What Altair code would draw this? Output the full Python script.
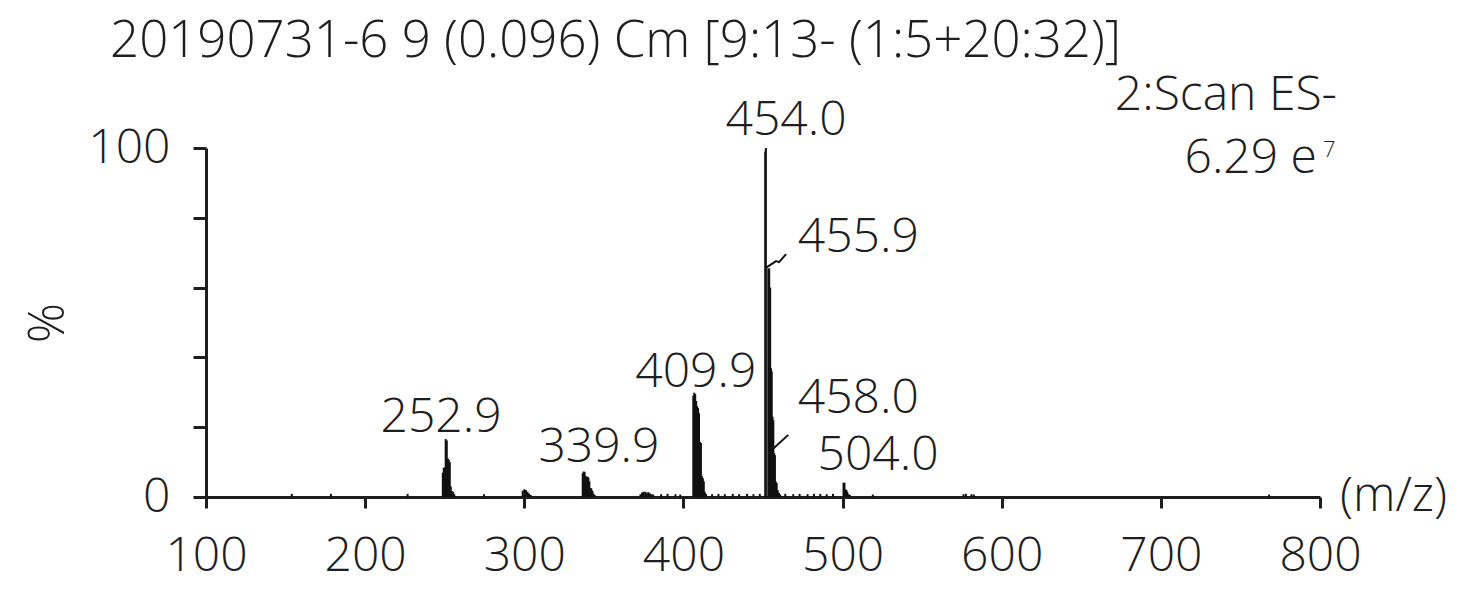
import altair as alt
import pandas as pd

# ---- spectrum sticks (m/z, relative intensity %) ----
mz = [153.9, 178.5, 226.7, 274.7,
      248.8, 249.4, 250.0, 250.6, 251.3, 252.0, 252.6, 253.2, 253.8, 254.5, 255.3, 256.0,
      299.0, 300.0, 301.0, 302.0, 303.0, 304.0,
      336.7, 337.3, 337.9, 338.5, 339.1, 339.7, 340.3, 340.9, 341.5, 342.1, 342.8, 343.4, 344.2,
      373.0, 374.0, 375.0, 376.0, 377.0, 378.0, 379.0, 380.0, 381.0,
      386.0, 390.0, 395.0, 398.0,
      406.2, 406.8, 407.4, 408.0, 408.6, 409.2, 409.8, 410.4, 411.0, 411.6, 412.2, 412.8, 413.4, 414.2,
      418.0, 422.0, 426.0, 431.0, 435.0, 440.0, 444.0, 448.0,
      451.4, 451.8,
      453.3, 453.9, 454.5, 455.0, 455.5, 456.0, 456.5, 457.0, 457.5, 458.0, 458.6, 459.2, 460.0, 460.8,
      464.0, 469.0, 473.0, 478.0, 482.0, 486.0, 490.0, 494.0,
      500.6, 501.2, 501.8, 502.4, 503.0, 503.8, 504.6,
      519.0, 576.0, 577.5, 581.0, 582.5, 768.0]
inten = [0.9, 0.9, 0.9, 0.8,
         7.0, 8.3, 8.5, 16.6, 16.2, 11.0, 10.6, 10.0, 3.0, 1.7, 1.5, 0.8,
         1.8, 2.2, 2.0, 1.5, 1.0, 0.6,
         6.8, 7.3, 7.2, 6.0, 5.8, 5.8, 5.6, 4.5, 2.5, 2.5, 1.8, 1.0, 0.6,
         0.8, 1.3, 1.5, 1.5, 1.2, 1.4, 1.0, 0.8, 0.7,
         0.8, 0.9, 0.8, 0.7,
         29.0, 29.9, 29.5, 27.5, 26.0, 25.5, 24.0, 15.8, 15.5, 6.0, 5.4, 4.5, 1.5, 0.9,
         0.8, 0.9, 0.8, 0.9, 0.8, 0.9, 0.8, 0.9,
         99.0, 100.0,
         65.5, 65.5, 60.0, 36.9, 36.0, 23.0, 22.0, 12.6, 12.0, 4.5, 4.0, 2.0, 1.2, 0.7,
         0.9, 0.8, 0.9, 0.8, 0.9, 0.9, 0.8, 0.9,
         4.1, 4.1, 2.2, 2.0, 1.5, 0.8, 0.6,
         0.7, 0.8, 0.9, 0.8, 0.7, 0.7]

# ---- peak labels ----
label_text = ["454.0", "455.9", "409.9", "252.9", "339.9", "458.0", "504.0"]
label_x = [464.5, 509.9, 407.8, 247.7, 346.9, 509.9, 522.3]
label_y = [103.7, 70.3, 31.6, 18.7, 10.1, 24.2, 7.7]

# ---- leader lines (label id, m/z, %) ----
leader_id = ["455.9", "455.9", "455.9", "455.9", "458.0", "458.0"]
leader_x = [451.5, 458.2, 460.1, 464.5, 455.5, 465.9]
leader_y = [65.6, 67.6, 67.3, 69.6, 13.5, 17.8]

# ---- annotation texts ----
title_text = "20190731-6 9 (0.096) Cm [9:13- (1:5+20:32)]"
scan_text = "2:Scan ES-"
tic_text = "6.29 e"
tic_exp = "7"
x_ticks = [100, 200, 300, 400, 500, 600, 700, 800]
y_ticks = [0, 10, 20, 30, 40, 50, 60, 70, 80, 90, 100]

FONT = "Open Sans"
FS = 48
FW = 300
INK = "#1e1e1e"

spec = pd.DataFrame({"mz": mz, "pct": inten, "base": [0] * len(mz)})
labels = pd.DataFrame({"mz": label_x, "pct": label_y, "t": label_text})
leaders = pd.DataFrame({"id": leader_id, "mz": leader_x, "pct": leader_y})

xs = alt.Scale(domain=[100, 800], nice=False, zero=False)
ys = alt.Scale(domain=[0, 100], nice=False)

x_axis = alt.Axis(values=x_ticks, format="d", title=None, grid=False,
                  tickSize=11, labelPadding=24, labelFlush=False,
                  domainColor=INK, domainWidth=3, tickColor=INK, tickWidth=3,
                  labelFont=FONT, labelFontSize=FS, labelColor=INK, labelFontWeight=FW)
y_axis = alt.Axis(values=y_ticks, title="%", grid=False, tickSize=13,
                  labelPadding=23, labelFlush=False, titlePadding=14,
                  labelExpr="datum.value == 0 || datum.value == 100 ? datum.label : ''",
                  domainColor=INK, domainWidth=3, tickColor=INK, tickWidth=3,
                  labelFont=FONT, labelFontSize=FS, labelColor=INK, labelFontWeight=FW,
                  titleFont=FONT, titleFontSize=50, titleColor=INK, titleFontWeight=FW)

sticks = alt.Chart(spec).mark_rule(color="#111111", strokeWidth=2).encode(
    x=alt.X("mz:Q", scale=xs, axis=x_axis),
    y=alt.Y("pct:Q", scale=ys, axis=y_axis),
    y2="base:Q",
)

peak_labels = alt.Chart(labels).mark_text(
    font=FONT, fontSize=FS, fontWeight=FW, color=INK, align="center", baseline="alphabetic"
).encode(x="mz:Q", y="pct:Q", text="t:N")

leader_lines = alt.Chart(leaders).mark_line(color="#111111", strokeWidth=2).encode(
    x="mz:Q", y="pct:Q", detail="id:N"
)

ann = pd.DataFrame({
    "mz": [39.7, 810.7, 798.1, 801.9, 800.0],
    "pct": [126.1, 110.9, 92.8, 97.4, 0.0],
    "t": [title_text, scan_text, tic_text, tic_exp, "(m/z)"],
    "kind": ["title", "scan", "tic", "exp", "unit"],
})

title_mark = alt.Chart(ann).transform_filter("datum.kind == 'title'").mark_text(
    font=FONT, fontSize=51, fontWeight=FW, color=INK, align="left", baseline="alphabetic"
).encode(x="mz:Q", y="pct:Q", text="t:N")
scan_mark = alt.Chart(ann).transform_filter("datum.kind == 'scan' || datum.kind == 'tic'").mark_text(
    font=FONT, fontSize=FS, fontWeight=FW, color=INK, align="right", baseline="alphabetic"
).encode(x="mz:Q", y="pct:Q", text="t:N")
exp_mark = alt.Chart(ann).transform_filter("datum.kind == 'exp'").mark_text(
    font=FONT, fontSize=22, fontWeight=FW, color=INK, align="left", baseline="alphabetic"
).encode(x="mz:Q", y="pct:Q", text="t:N")
unit_mark = alt.Chart(ann).transform_filter("datum.kind == 'unit'").mark_text(
    font=FONT, fontSize=FS, fontWeight=FW, color=INK, align="left", baseline="middle", dx=20
).encode(x="mz:Q", y="pct:Q", text="t:N")

chart = alt.layer(
    sticks, leader_lines, peak_labels, title_mark, scan_mark, exp_mark, unit_mark
).properties(
    width=1114, height=349,
    background="white",
    autosize=alt.AutoSizeParams(type="none"),
    padding={"left": 198, "top": 140, "right": 148, "bottom": 87},
).configure_view(stroke=None)

chart.save("out.html", embed_options={"renderer": "svg", "actions": False})
